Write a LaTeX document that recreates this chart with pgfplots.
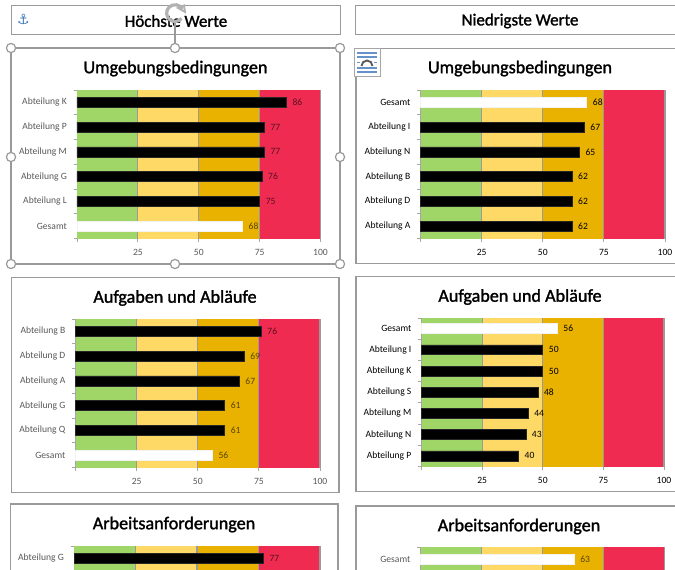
\documentclass[border=0pt]{standalone}
\usepackage{fontspec}
\usepackage{pgfplots}
\pgfplotsset{compat=1.18}
\setmainfont{Carlito}
\newfontfamily\titlefont[FakeBold=1.5]{Carlito}
\newfontfamily\symfont{DejaVu Sans}
\definecolor{bgreen}{HTML}{A0D568}
\definecolor{byellow}{HTML}{FFD966}
\definecolor{borange}{HTML}{E9B200}
\definecolor{bred}{HTML}{EF2B52}
\definecolor{lgray}{HTML}{595959}
\definecolor{fgray}{HTML}{9A9A9A}
\definecolor{agray}{HTML}{A6A6A6}
\definecolor{ancblue}{HTML}{3F78BC}
\pgfplotsset{
  xtl/.style={xtick={0,25,50,75,100}, xticklabels={,25,50,75,100}},
  bwbar/.style={xbar, bar shift=0pt, bar width=7.4pt, nodes near coords, point meta=explicit symbolic,
     every node near coord/.append style={anchor=west, font=\fontsize{7.2pt}{8pt}\selectfont, text=black, text opacity=#1, inner sep=0pt, xshift=4.4pt}},
}
% #1 left #2 top #3 width #4 label colour #5 n categories
% #6 tick positions #7 label positions #8 labels #9 plots
\newcommand{\chart}[9]{%
\coordinate (chartpos) at (#1,#2);
\begin{axis}[
  at={(chartpos)}, anchor=north west, scale only axis,
  width=#3*0.75pt, height=111.4pt,
  xmin=0, xmax=100, ymin=-0.5, ymax=#5-0.5,
  axis lines*=left, axis line style={agray, line width=0.6pt},
  tick align=outside, tick style={agray, line width=0.6pt}, major tick length=2.4pt,
  xtl,
  ytick={#6}, yticklabels={},
  extra y ticks={#7}, extra y tick labels={#8},
  extra y tick style={major tick length=0pt, tick style={draw=none},
     yticklabel style={font=\fontsize{7.2pt}{8pt}\selectfont, text=#4, anchor=east, inner sep=0pt, xshift=-7.4pt}},
  xticklabel style={font=\fontsize{7.2pt}{8pt}\selectfont, text=#4, inner sep=0pt, yshift=-5.6pt},
  /pgf/number format/assume math mode=true,
  clip=false,
]
\addplot[draw=none, fill=bgreen] coordinates {(0,-0.5)(25,-0.5)(25,#5-0.5)(0,#5-0.5)} -- cycle;
\addplot[draw=none, fill=byellow] coordinates {(25,-0.5)(50,-0.5)(50,#5-0.5)(25,#5-0.5)} -- cycle;
\addplot[draw=none, fill=borange] coordinates {(50,-0.5)(75,-0.5)(75,#5-0.5)(50,#5-0.5)} -- cycle;
\addplot[draw=none, fill=bred] coordinates {(75,-0.5)(100,-0.5)(100,#5-0.5)(75,#5-0.5)} -- cycle;
\addplot[fgray, line width=0.8pt] coordinates {(25,-0.5)(25,#5-0.5)};
\addplot[fgray, line width=0.8pt] coordinates {(50,-0.5)(50,#5-0.5)};
\addplot[fgray, line width=0.8pt] coordinates {(75,-0.5)(75,#5-0.5)};
\addplot[fgray, line width=0.8pt] coordinates {(100,-0.5)(100,#5-0.5)};
#9
\end{axis}}
\newcommand{\blackbars}[2]{\addplot[bwbar=#1, fill=black, draw=black!85, line width=0.4pt] coordinates {#2};}
\newcommand{\whitebars}[2]{\addplot[bwbar=#1, fill=white, draw=white!90!gray, line width=0.4pt] coordinates {#2};}
\newcommand{\panelbox}[4]{\draw[fgray, line width=0.8pt] (#1,#2) rectangle (#3,#4);}
\begin{document}
\begin{tikzpicture}[x=0.75pt, y=-0.75pt]
\useasboundingbox (0,0) rectangle (675,570);
\clip (0,0) rectangle (675,570);
\fill[white] (0,0) rectangle (675,570);
% headers
\panelbox{11.5}{5.5}{340.5}{34.5}
\panelbox{355.5}{5.5}{690}{34.5}
% panels
\panelbox{356}{48.5}{690}{263.5}
\panelbox{11.5}{277.5}{339}{492.5}
\panelbox{356}{276.5}{690}{491.5}
\panelbox{10.5}{504}{338}{600}
\panelbox{356}{506}{690}{600}
\tikzset{hd/.style={font=\titlefont\fontsize{12.7pt}{14pt}\selectfont, text=black, inner sep=0pt, anchor=center},
         tt/.style={font=\titlefont\fontsize{13.6pt}{15pt}\selectfont, text=black, inner sep=0pt, anchor=center}}
\node[tt] at (175.5,68.5) {Umgebungsbedingungen};
\node[tt] at (520,68.5) {Umgebungsbedingungen};
\node[tt] at (175,298) {Aufgaben und Abläufe};
\node[tt] at (520,297) {Aufgaben und Abläufe};
\node[tt] at (174,524.5) {Arbeitsanforderungen};
\node[tt] at (519,526.5) {Arbeitsanforderungen};
\node[hd] at (176,21) {Höchste Werte};
\node[hd] at (520,21) {Niedrigste Werte};
% charts
\chart{77}{90}{243.5}{lgray}{6}{-0.5,0.5,1.5,2.5,3.5,4.5,5.5}{0,1,2,3,4,5}
 {Gesamt,Abteilung L,Abteilung G,Abteilung M,Abteilung P,Abteilung K}
 {\blackbars{0.62}{(75,1)[75] (76,2)[76] (77,3)[77] (77,4)[77] (86,5)[86]}
  \whitebars{0.62}{(68,0)[68]}}
\chart{420.5}{90}{244.5}{black}{6}{-0.5,0.5,1.5,2.5,3.5,4.5,5.5}{0,1,2,3,4,5}
 {Abteilung A,Abteilung D,Abteilung B,Abteilung N,Abteilung I,Gesamt}
 {\blackbars{1}{(62,0)[62] (62,1)[62] (62,2)[62] (65,3)[65] (67,4)[67]}
  \whitebars{1}{(68,5)[68]}}
\chart{75.5}{319}{244.5}{lgray}{6}{-0.5,0.5,1.5,2.5,3.5,4.5,5.5}{0,1,2,3,4,5}
 {Gesamt,Abteilung Q,Abteilung G,Abteilung A,Abteilung D,Abteilung B}
 {\blackbars{0.62}{(61,1)[61] (61,2)[61] (67,3)[67] (69,4)[69] (76,5)[76]}
  \whitebars{0.62}{(56,0)[56]}}
\chart{421.5}{318}{242.5}{black}{7}{-0.5,0.5,1.5,2.5,3.5,4.5,5.5,6.5}{0,1,2,3,4,5,6}
 {Abteilung P,Abteilung N,Abteilung M,Abteilung S,Abteilung K,Abteilung I,Gesamt}
 {\blackbars{1}{(40,0)[40] (43,1)[43] (44,2)[44] (48,3)[48] (50,4)[50] (50,5)[50]}
  \whitebars{1}{(56,6)[56]}}
% bottom row: only the top of these charts lies on the page
\pgfplotsset{xtl/.style={xtick=\empty}}
\chart{74}{546}{246}{lgray}{6}{-0.5,0.5,1.5,2.5,3.5,4.5,5.5}{5}
 {Abteilung G}
 {\blackbars{0.62}{(77,5)[77]}}
\chart{420.5}{547}{244}{lgray}{6}{-0.5,0.5,1.5,2.5,3.5,4.5,5.5}{5}
 {Gesamt}
 {\whitebars{0.62}{(63,5)[63]}}
% selected frame with handles
\draw[fgray, line width=1.1pt] (11,48) rectangle (340,264);
\draw[fgray, line width=0.8pt] (175,22) -- (175,48);
\draw[gray!60, line width=2.4pt] (181.5,18.5) arc[start angle=40, end angle=330, radius=8.4];
\draw[gray!60, line width=1.4pt] (178,8) -- (184,5.5) -- (185,12) -- cycle;
\foreach \p in {(11,48),(175,48),(340,48),(11,157),(340,157),(11,264),(175,264),(340,264)}{
  \draw[fgray, line width=0.9pt, fill=white] \p circle[radius=4.6];}
% anchor
\node[font=\symfont\fontsize{10.5pt}{12pt}\selectfont, text=ancblue, inner sep=0pt] at (23.5,19.5) {⚓};
% layout icon
\draw[black!35, line width=0.6pt, fill=white] (354,48) rectangle (380,76);
\foreach \yy in {53,57,68,72}{\draw[ancblue!80, line width=0.8pt] (357,\yy) -- (377,\yy);}
\draw[ancblue!80, line width=0.8pt] (357,62.5) -- (360,62.5) (374,62.5) -- (377,62.5);
\draw[black!65, line width=1.4pt] (361.5,66) arc[start angle=180, end angle=360, radius=5.5];
\end{tikzpicture}
\end{document}
